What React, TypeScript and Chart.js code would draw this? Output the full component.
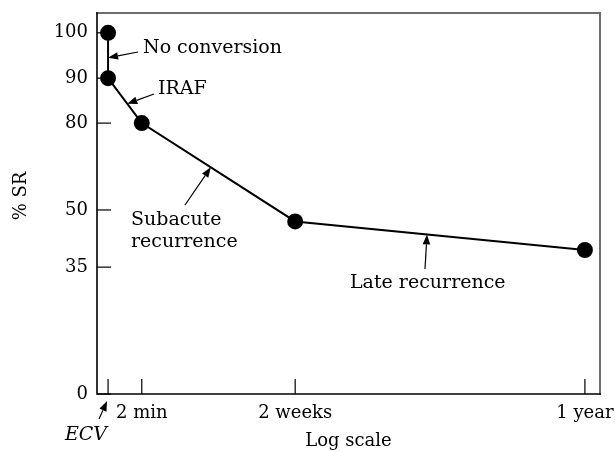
import React, { useEffect, useRef } from 'react';
import { Chart, registerables, LinearScale } from 'chart.js';

Chart.register(...registerables);

// ---- data ----
const timepoints = ['ECV', '2 min', '2 weeks', '1 year'];
const xTickLabels = ['', '2 min', '2 weeks', '1 year'];
const pointTime = [0, 0, 1, 2, 3]; // index into timepoints
const pointSR = [100, 90, 80, 47, 39.5];
const yTicks = [0, 35, 50, 80, 90, 100];
const yTitle = '% SR';
const xTitle = 'Log scale';

// ---- schematic axis layout (value -> fraction of axis length) ----
const yBreakValues = [0, 35, 50, 80, 90, 100, 104.4];
const yBreakFracs = [0, 0.333, 0.483, 0.711, 0.829, 0.948, 1];
const xBreakValues = [-0.33, 0, 1, 2, 3, 3.052];
const xBreakFracs = [0, 0.022, 0.089, 0.394, 0.97, 1];

function interp(xs: number[], ys: number[], v: number): number {
  const n = xs.length;
  let i = 0;
  if (v <= xs[0]) i = 0;
  else if (v >= xs[n - 1]) i = n - 2;
  else {
    while (i < n - 2 && v > xs[i + 1]) i++;
  }
  const t = (v - xs[i]) / (xs[i + 1] - xs[i]);
  return ys[i] + t * (ys[i + 1] - ys[i]);
}

function makeScale(id: string, vals: number[], fracs: number[]) {
  class PiecewiseScale extends LinearScale {
    static id = id;
    static defaults = (LinearScale as any).defaults;
    getPixelForValue(value: number) {
      return (this as any).getPixelForDecimal(interp(vals, fracs, value));
    }
    getValueForPixel(pixel: number) {
      return interp(fracs, vals, (this as any).getDecimalForPixel(pixel));
    }
  }
  return PiecewiseScale;
}

Chart.register(makeScale('pwx', xBreakValues, xBreakFracs) as any);
Chart.register(makeScale('pwy', yBreakValues, yBreakFracs) as any);

const FONT = '"DejaVu Serif", "Liberation Serif", serif';

function drawArrow(ctx: CanvasRenderingContext2D, x1: number, y1: number, x2: number, y2: number) {
  const ang = Math.atan2(y2 - y1, x2 - x1);
  const hl = 10;
  const hw = 3.8;
  const bx = x2 - hl * Math.cos(ang);
  const by = y2 - hl * Math.sin(ang);
  ctx.beginPath();
  ctx.moveTo(x1, y1);
  ctx.lineTo(bx, by);
  ctx.lineWidth = 1.2;
  ctx.strokeStyle = '#000';
  ctx.stroke();
  ctx.beginPath();
  ctx.moveTo(x2, y2);
  ctx.lineTo(bx + hw * Math.sin(ang), by - hw * Math.cos(ang));
  ctx.lineTo(bx - hw * Math.sin(ang), by + hw * Math.cos(ang));
  ctx.closePath();
  ctx.fillStyle = '#000';
  ctx.fill();
}

// annotations: segment (from data point i to i+1), fraction along it, arrow tail, text lines
const annotations = [
  { seg: 0, t: 0.55, tail: [138, 52], text: ['No conversion'], tx: 143, ty: [48] },
  { seg: 1, t: 0.57, tail: [154, 94], text: ['IRAF'], tx: 158, ty: [89] },
  { seg: 2, t: 0.45, tail: [185, 205], text: ['Subacute', 'recurrence'], tx: 131, ty: [220, 242] },
  { seg: 3, t: 0.455, tail: [425, 269], text: ['Late recurrence'], tx: 350, ty: [283] },
];

const framePlugin = {
  id: 'frame',
  beforeDatasetsDraw(chart: any) {
    const { ctx, chartArea } = chart;
    const { left, right, top, bottom } = chartArea;
    const xs = chart.scales.x;
    const ys = chart.scales.y;
    ctx.save();
    ctx.lineCap = 'square';
    // top & right (gray)
    ctx.strokeStyle = '#6e6e6e';
    ctx.lineWidth = 2;
    ctx.beginPath();
    ctx.moveTo(left, top);
    ctx.lineTo(right, top);
    ctx.lineTo(right, bottom);
    ctx.stroke();
    // left & bottom (black)
    ctx.strokeStyle = '#000';
    ctx.lineWidth = 1.6;
    ctx.beginPath();
    ctx.moveTo(left, top);
    ctx.lineTo(left, bottom);
    ctx.lineTo(right, bottom);
    ctx.stroke();
    // inner ticks
    ctx.lineWidth = 1.2;
    ctx.lineCap = 'butt';
    yTicks.forEach((v) => {
      const y = ys.getPixelForValue(v);
      ctx.beginPath();
      ctx.moveTo(left, y);
      ctx.lineTo(left + 14, y);
      ctx.stroke();
    });
    timepoints.forEach((_, i) => {
      const x = xs.getPixelForValue(i);
      ctx.beginPath();
      ctx.moveTo(x, bottom);
      ctx.lineTo(x, bottom - 15);
      ctx.stroke();
    });
    // y-axis title
    ctx.save();
    ctx.translate(21, 196);
    ctx.rotate(-Math.PI / 2);
    ctx.font = `18px ${FONT}`;
    ctx.fillStyle = '#000';
    ctx.textAlign = 'center';
    ctx.textBaseline = 'middle';
    ctx.fillText(yTitle, 0, 0);
    ctx.restore();
    ctx.restore();
  },
  afterDraw(chart: any) {
    const { ctx, chartArea } = chart;
    const xs = chart.scales.x;
    const ys = chart.scales.y;
    ctx.save();
    ctx.font = `19px ${FONT}`;
    ctx.fillStyle = '#000';
    ctx.textBaseline = 'middle';
    ctx.textAlign = 'left';
    annotations.forEach((a) => {
      const x1 = xs.getPixelForValue(pointTime[a.seg]);
      const y1 = ys.getPixelForValue(pointSR[a.seg]);
      const x2 = xs.getPixelForValue(pointTime[a.seg + 1]);
      const y2 = ys.getPixelForValue(pointSR[a.seg + 1]);
      const tipX = x1 + a.t * (x2 - x1);
      const tipY = y1 + a.t * (y2 - y1);
      drawArrow(ctx, a.tail[0], a.tail[1], tipX, tipY);
      a.text.forEach((line, k) => ctx.fillText(line, a.tx, a.ty[k]));
    });
    // ECV label with arrow to its tick
    const ecvX = xs.getPixelForValue(0);
    drawArrow(ctx, 99, 419, ecvX - 1, chartArea.bottom + 7);
    ctx.font = `italic 19px ${FONT}`;
    ctx.textAlign = 'center';
    ctx.fillText(timepoints[0], 86, 435);
    ctx.restore();
  },
};

export default function App() {
  const ref = useRef<HTMLCanvasElement>(null);
  useEffect(() => {
    if (!ref.current) return;
    const data = pointTime.map((t, i) => ({ x: t, y: pointSR[i] }));
    const chart = new Chart(ref.current, {
      type: 'scatter',
      data: {
        datasets: [
          {
            data,
            showLine: true,
            borderColor: '#000',
            borderWidth: 2,
            backgroundColor: '#000',
            pointRadius: 7,
            pointHoverRadius: 7,
            pointBackgroundColor: '#000',
            pointBorderColor: '#000',
            tension: 0,
            clip: false as any,
          },
        ],
      },
      options: {
        animation: false,
        responsive: false,
        layout: { autoPadding: false, padding: { top: 13, right: 15, left: 0, bottom: 0 } },
        plugins: { legend: { display: false }, tooltip: { enabled: false } },
        scales: {
          x: {
            type: 'pwx' as any,
            min: xBreakValues[0],
            max: xBreakValues[xBreakValues.length - 1],
            grid: { display: false, drawTicks: false },
            border: { display: false },
            afterBuildTicks: (s: any) => {
              s.ticks = timepoints.map((_, i) => ({ value: i }));
            },
            afterFit: (s: any) => {
              s.height = 58;
              s.paddingLeft = 0;
              s.paddingRight = 0;
            },
            ticks: {
              autoSkip: false,
              maxRotation: 0,
              padding: 9,
              color: '#000',
              font: { family: FONT, size: 18 },
              callback: (_v: any, i: number) => xTickLabels[i],
            },
            title: {
              display: true,
              text: xTitle,
              color: '#000',
              font: { family: FONT, size: 18 },
              padding: { top: 0, bottom: 0 },
            },
          } as any,
          y: {
            type: 'pwy' as any,
            min: yBreakValues[0],
            max: yBreakValues[yBreakValues.length - 1],
            grid: { display: false, drawTicks: false },
            border: { display: false },
            afterBuildTicks: (s: any) => {
              s.ticks = yTicks.map((v) => ({ value: v }));
            },
            afterFit: (s: any) => {
              s.width = 97;
              s.paddingTop = 0;
              s.paddingBottom = 0;
            },
            ticks: {
              padding: 9,
              color: '#000',
              font: { family: FONT, size: 18 },
              callback: (v: any) => String(v),
            },
            title: { display: false },
          } as any,
        },
      },
      plugins: [framePlugin],
    });
    return () => chart.destroy();
  }, []);
  return (
    <div style={{ position: 'absolute', left: 0, top: 0, width: 615, height: 452, background: '#fff' }}>
      <canvas ref={ref} width={615} height={452} style={{ display: 'block' }} />
    </div>
  );
}
